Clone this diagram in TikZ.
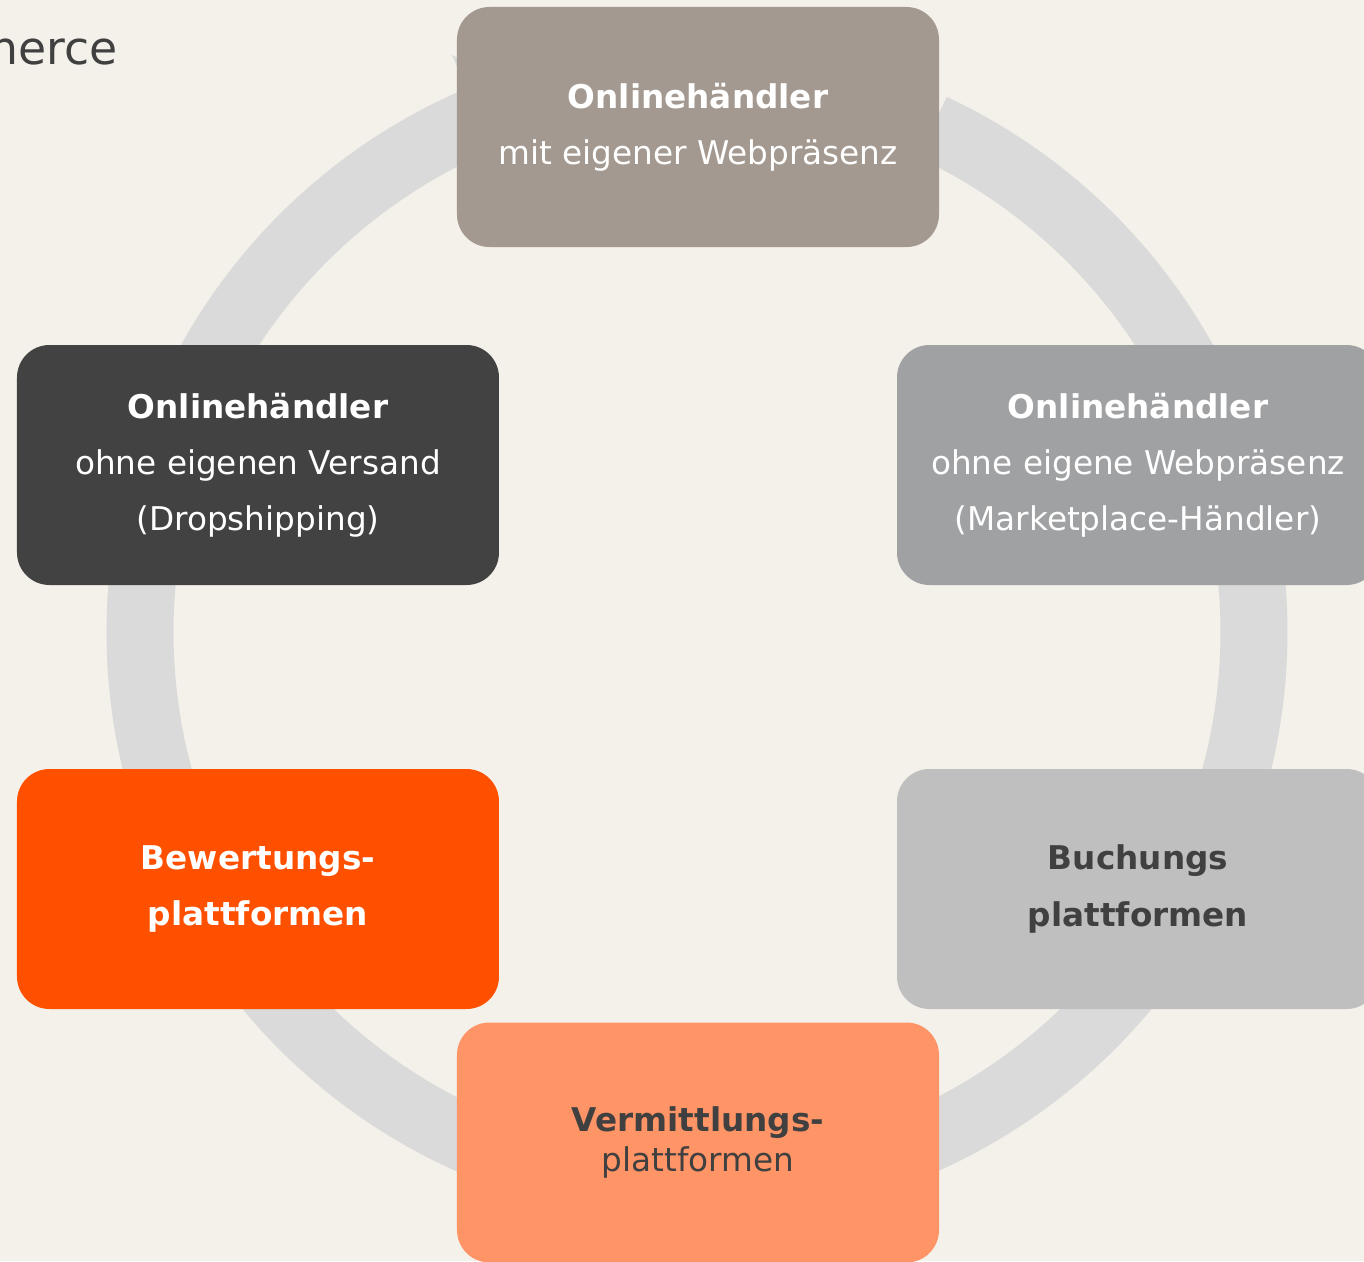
\documentclass[tikz,border=0pt]{standalone}
\usepackage{fontspec}
\setmainfont{DejaVu Sans}
\def\ringrad{11.14}
\usepackage{tikz}
\definecolor{bgcream}{HTML}{F4F1EA}
\definecolor{ringgray}{HTML}{DADADA}
\definecolor{boxtaupe}{HTML}{A39990}
\definecolor{boxmid}{HTML}{A0A1A3}
\definecolor{boxdark}{HTML}{424242}
\definecolor{boxorange}{HTML}{FF5000}
\definecolor{boxlight}{HTML}{BFBFBF}
\definecolor{boxsalmon}{HTML}{FF9466}
\definecolor{textdark}{HTML}{404040}

\begin{document}
\begin{tikzpicture}
	\tikzstyle{platform}=[rectangle,rounded corners=0.65cm,minimum width=9.64cm,minimum height=4.8cm,inner sep=0pt,align=center,text=white,font=\fontsize{18.6}{32}\selectfont]
	\tikzstyle{ring}=[draw=ringgray,line width=1.34cm]
	
	% Page and background
	\useasboundingbox (-13.94,-12.58) rectangle (13.34,12.64);
	\fill[bgcream] (-13.94,-12.58) rectangle (13.34,12.64);
	
	% Title, cut at the left edge
	\node[anchor=base east,inner sep=0pt,text=textdark,font=\fontsize{26}{30}\selectfont] (title) at (-11.58,11.34) {nerce};
	
	% Draw the ring of arrows (clockwise)
	\foreach \from/\base/\tip in {65/26/20,8/-17/-23,-37/-70/-76,-112/-144/-150,197/174/168,152/113/107}
	{
		\draw[ring] (\from:\ringrad) arc[start angle=\from,end angle=\base,radius=\ringrad];
		\fill[ringgray] (\base:12.54) -- (\tip:\ringrad) -- (\base:9.74) -- cycle;
	}
	
	% Draw the platform boxes
	\node[platform,fill=boxtaupe] (own) at (0.02,10.1) {\textbf{Onlinehändler}\\mit eigener Webpräsenz};
	\node[platform,fill=boxmid] (market) at (8.82,3.34) {\textbf{Onlinehändler}\\ohne eigene Webpräsenz\\(Marketplace-Händler)};
	\node[platform,fill=boxdark] (drop) at (-8.78,3.34) {\textbf{Onlinehändler}\\ohne eigenen Versand\\(Dropshipping)};
	\node[platform,fill=boxorange] (rating) at (-8.78,-5.14) {\textbf{Bewertungs-}\\\textbf{plattformen}};
	\node[platform,fill=boxlight,text=textdark] (booking) at (8.82,-5.14) {\textbf{Buchungs}\\\textbf{plattformen}};
	\node[platform,fill=boxsalmon,text=textdark] (agency) at (0.02,-10.21) {\textbf{Vermittlungs-}\\[-9pt]plattformen};
	
\end{tikzpicture}
\end{document}
